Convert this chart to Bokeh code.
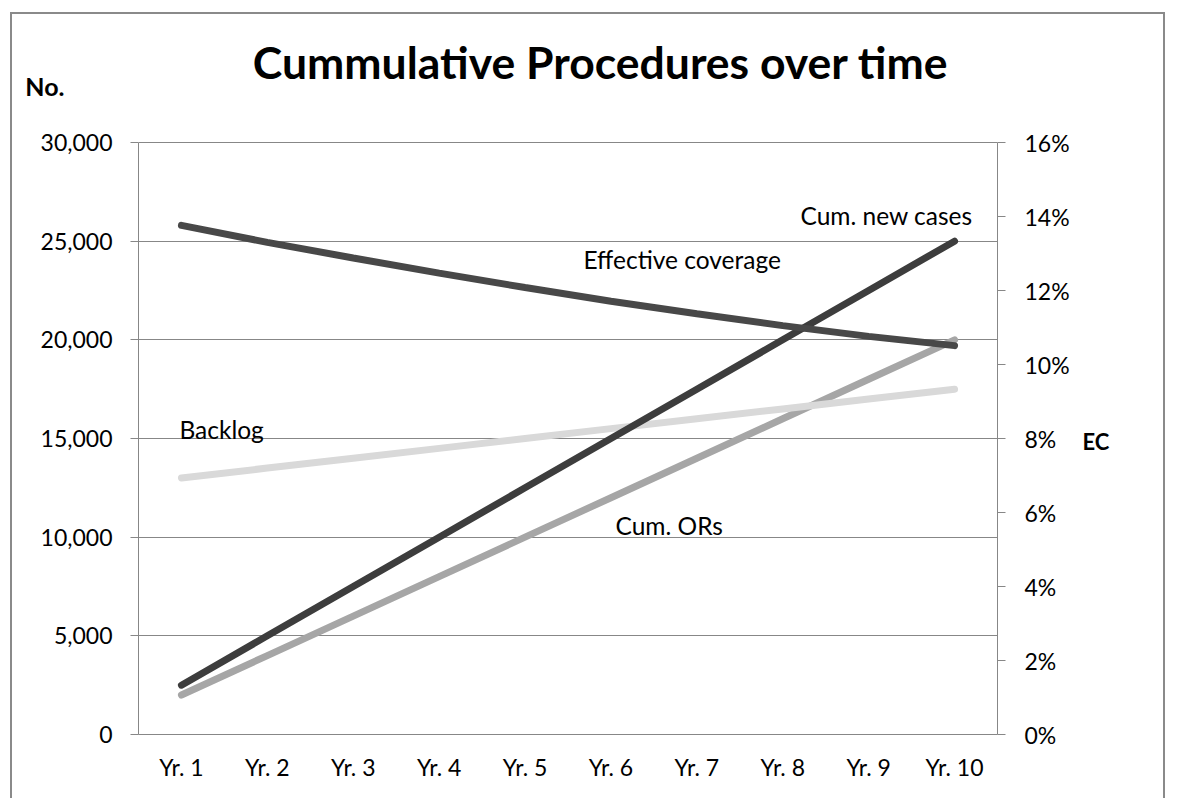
from bokeh.plotting import figure
from bokeh.models import Range1d, LinearAxis, FixedTicker, NumeralTickFormatter, Label
from bokeh.embed import file_html
from bokeh.resources import INLINE

# ---------------- data ----------------
years = ["Yr. 1", "Yr. 2", "Yr. 3", "Yr. 4", "Yr. 5", "Yr. 6", "Yr. 7", "Yr. 8", "Yr. 9", "Yr. 10"]
year_pos = [1, 2, 3, 4, 5, 6, 7, 8, 9, 10]
cum_new_cases = [2500, 5000, 7500, 10000, 12500, 15000, 17500, 20000, 22500, 25000]
cum_ors = [2000, 4000, 6000, 8000, 10000, 12000, 14000, 16000, 18000, 20000]
backlog = [13000, 13500, 14000, 14500, 15000, 15500, 16000, 16500, 17000, 17500]
effective_coverage = [0.1376, 0.1330, 0.1288, 0.1247, 0.1208, 0.1171, 0.1137, 0.1105, 0.1076, 0.1051]
left_ticks = [0, 5000, 10000, 15000, 20000, 25000, 30000]
right_ticks = [0, 0.02, 0.04, 0.06, 0.08, 0.10, 0.12, 0.14, 0.16]
left_max = 30000
right_max = 0.16

FONT = "Lato"
GRID = "#878787"

# frame is extended upwards above the plot area so that the title sits inside it
PLOT_H = 592.0
FRAME_H = 710.0
ext = FRAME_H / PLOT_H

p = figure(width=1155, height=786, output_backend="svg", toolbar_location=None,
           x_range=Range1d(0.5, 10.5), y_range=Range1d(0, left_max * ext),
           min_border_left=126, min_border_right=170, min_border_top=10, min_border_bottom=66,
           y_axis_location=None, x_axis_location=None)
p.margin = (12, 0, 0, 10)
p.styles = {"border-left": "2px solid #8a8a8a", "border-top": "2px solid #8a8a8a",
            "border-right": "2px solid #8a8a8a"}
p.outline_line_color = None
p.background_fill_color = "white"
p.border_fill_color = "white"
p.extra_y_ranges = {"ec": Range1d(0, right_max * ext)}

def style_labels(ax, size="23px", bold=False):
    ax.major_label_text_font = FONT
    ax.major_label_text_font_size = size
    ax.major_label_text_color = "black"
    ax.major_label_text_font_style = "bold" if bold else "normal"

# left value axis
yl = LinearAxis(ticker=FixedTicker(ticks=left_ticks), formatter=NumeralTickFormatter(format="0,0"),
                bounds=(0, left_max))
yl.axis_line_color = GRID
yl.major_tick_line_color = GRID
yl.major_tick_out = 8
yl.major_tick_in = 0
yl.minor_tick_line_color = None
yl.major_label_standoff = 18
style_labels(yl)
p.add_layout(yl, "left")

# left "No." caption (outer, bare axis)
no_pos = 32840
yl2 = LinearAxis(ticker=FixedTicker(ticks=[no_pos]), major_label_overrides={no_pos: "No."})
yl2.axis_line_color = None
yl2.major_tick_line_color = None
yl2.major_tick_out = 0
yl2.major_tick_in = 0
yl2.minor_tick_line_color = None
yl2.major_label_standoff = -27
style_labels(yl2, "25px", True)
p.add_layout(yl2, "left")

# right EC axis
yr = LinearAxis(y_range_name="ec", ticker=FixedTicker(ticks=right_ticks),
                formatter=NumeralTickFormatter(format="0%"), bounds=(0, right_max))
yr.axis_line_color = GRID
yr.major_tick_line_color = GRID
yr.major_tick_out = 8
yr.major_tick_in = 0
yr.minor_tick_line_color = None
yr.major_label_standoff = 19
style_labels(yr)
p.add_layout(yr, "right")

# right "EC" caption (outer, bare axis)
ec_pos = 14850
yr2 = LinearAxis(ticker=FixedTicker(ticks=[ec_pos]), major_label_overrides={ec_pos: "EC"})
yr2.axis_line_color = None
yr2.major_tick_line_color = None
yr2.major_tick_out = 0
yr2.major_tick_in = 0
yr2.minor_tick_line_color = None
yr2.major_label_standoff = 10
style_labels(yr2, "22px", True)
p.add_layout(yr2, "right")

# bottom category axis
xa = LinearAxis(ticker=FixedTicker(ticks=year_pos),
                major_label_overrides={pos: lab for pos, lab in zip(year_pos, years)})
xa.axis_line_color = GRID
xa.major_tick_line_color = None
xa.minor_tick_line_color = None
xa.major_label_standoff = 12
style_labels(xa)
p.add_layout(xa, "below")

p.xgrid.visible = False
p.ygrid.ticker = FixedTicker(ticks=left_ticks)
p.ygrid.grid_line_color = GRID
p.ygrid.grid_line_width = 1

# series
p.line(year_pos, cum_ors, line_color="#a6a6a6", line_width=7, line_cap="round")
p.line(year_pos, backlog, line_color="#d9d9d9", line_width=7, line_cap="round")
p.line(year_pos, cum_new_cases, line_color="#3d3d3d", line_width=7, line_cap="round")
p.line(year_pos, effective_coverage, y_range_name="ec", line_color="#484848", line_width=7, line_cap="round")

# texts
def lab(x, y, text, size="24.5px", bold=False, align="left"):
    p.add_layout(Label(x=x, y=y, text=text, text_font=FONT, text_font_size=size,
                       text_font_style="bold" if bold else "normal", text_color="black",
                       text_align=align, text_baseline="alphabetic"))

lab(5.88, 34080, "Cummulative Procedures over time", size="44.5px", bold=True, align="center")
lab(10.21, 26326, "Cum. new cases", align="right")
lab(5.68, 24046, "Effective coverage")
lab(0.977, 15481, "Backlog")
lab(6.053, 10566, "Cum. ORs")

open("out.html", "w").write(file_html(p, INLINE))
